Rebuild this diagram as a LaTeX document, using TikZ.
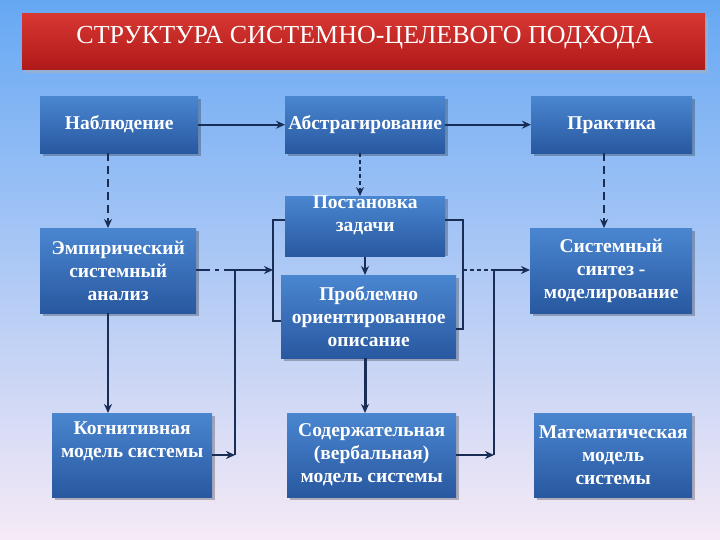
\documentclass[tikz,border=0pt]{standalone}
\usepackage{fontspec}
\setmainfont{Liberation Serif}
\usetikzlibrary{arrows.meta}
\definecolor{bgtop}{HTML}{66A8F4}
\definecolor{bgbot}{HTML}{F6EAF6}
\definecolor{btop}{HTML}{4A86D0}
\definecolor{bbot}{HTML}{2858A0}
\definecolor{ln}{HTML}{1A2E55}
\tikzset{
 bx/.style={draw=none,top color=btop,bottom color=bbot,text=white,font=\bfseries\fontsize{19.5}{23}\selectfont,align=center,inner sep=0pt},
 ar/.style={draw=ln,line width=2pt,-{Stealth[length=9pt,width=8pt]}},
 ln/.style={draw=ln,line width=1.8pt},
 dsh/.style={dash pattern=on 8pt off 5pt},
}
\newcommand\bxat[6]{\node[bx,minimum width=#4-#2,minimum height=#5-#3,anchor=north west] (#1) at (#2,#3) {#6};}
\begin{document}
\begin{tikzpicture}[x=1pt,y=-1pt]
\useasboundingbox (0,0) rectangle (720,540);
\shade[top color=bgtop,bottom color=bgbot] (0,0) rectangle (720,540);
\fill[black!30,opacity=0.5] (25,17) rectangle (708,73);
\shade[top color={rgb,255:red,215;green,55;blue,50},bottom color={rgb,255:red,175;green,25;blue,25}] (22,14) rectangle (705,70);
\node[text=white,font=\fontsize{26}{28}\selectfont] (title) at (365,38) {СТРУКТУРА СИСТЕМНО-ЦЕЛЕВОГО ПОДХОДА};
\foreach \a/\b/\c/\d in {43/99/201/156,288/99/448/156,534/99/695/156,43/231/199/316,288/199/448/256,284/278/459/361,533/231/695/316,55/416/215/500,290/416/459/500,537/416/695/500}
  \fill[black,opacity=0.25] (\a,\b) rectangle (\c,\d);
\bxat{n}{40}{96}{198}{153}{Наблюдение}
\bxat{a}{285}{96}{445}{153}{Абстрагирование}
\bxat{p}{531}{96}{692}{153}{Практика}
\bxat{e}{40}{228}{196}{313}{Эмпирический\\системный\\анализ}
\bxat{z}{285}{196}{445}{253}{Постановка\\задачи\\[2pt]}
\bxat{o}{281}{275}{456}{358}{Проблемно\\ориентированное\\описание}
\bxat{s}{530}{228}{692}{313}{Системный\\синтез -\\моделирование}
\bxat{k}{52}{413}{212}{497}{Когнитивная\\модель системы\\[8pt]}
\bxat{v}{287}{413}{456}{497}{Содержательная\\(вербальная)\\модель системы}
\bxat{m}{534}{413}{692}{497}{Математическая\\модель\\системы}
% top row
\draw[ar] (n.east) -- (a.west);
\draw[ar] (a.east) -- (p.west);
\draw[ar,dsh] (n.south -| 108,0) -- (108,228);
\draw[ar,line width=1.2pt,dash pattern=on 4pt off 3pt] (a.south -| 360,0) -- (z.north -| 360,0);
\draw[ar,dsh] (p.south -| 604,0) -- (s.north -| 604,0);
\draw[ar] (e.south -| 108,0) -- (k.north -| 108,0);
\draw[ar,line width=1.2pt] (z.south -| 365,0) -- (o.north -| 365,0);
\draw[ar,line width=3pt] (o.south -| 365,0) -- (v.north -| 365,0);
% brackets
\coordinate (lb1) at (273,220); \coordinate (lb2) at (273,321);
\draw[ln] (z.west |- lb1) -- (lb1) -- (lb2) -- (o.west |- lb2);
\coordinate (rb1) at (463,220); \coordinate (rb2) at (463,329);
\draw[ln] (z.east |- rb1) -- (rb1) -- (rb2) -- (o.east |- rb2);
% left feed
\coordinate (lj) at (235,270); \coordinate (lk) at (235,455);
\draw[ln,dash pattern=on 14pt off 5pt on 4pt off 5pt] (e.east |- lj) -- (lj);
\draw[ar] (lj) -- (lb1 |- lj);
\draw[ln] (lj) -- (lk);
\draw[ar] (k.east |- lk) -- (lk);
% right feed
\coordinate (rj) at (494,270); \coordinate (rk) at (494,455);
\draw[ln,line width=1.2pt,dash pattern=on 4pt off 3pt] (rb1 |- rj) -- (rj);
\draw[ar] (rj) -- (s.west |- rj);
\draw[ln] (rj) -- (rk);
\draw[ar] (v.east |- rk) -- (rk);
\end{tikzpicture}
\end{document}
